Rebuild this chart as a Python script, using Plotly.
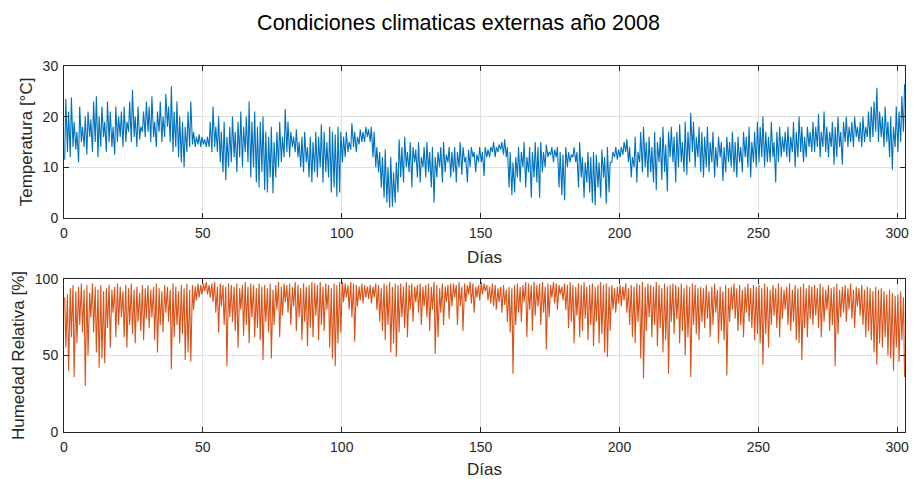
import plotly.graph_objects as go
from plotly.subplots import make_subplots

# Daily minimum / maximum outdoor temperature [°C], days 0..302
temp_min = [
    11.5, 13, 12, 14, 13.5, 11, 15, 14, 12.5, 16,
    13, 15, 12, 14, 16, 13, 15, 14, 12.5, 15,
    16, 14, 15, 17, 15, 16, 14, 15.5, 17, 16,
    17, 15, 16, 14, 17, 15, 16, 18, 15, 13,
    14, 12, 11, 10, 13, 14, 14.5, 14, 14.5, 14,
    14.5, 14, 14, 13, 14, 13, 11, 9, 7.5, 10,
    11, 12, 9, 12, 10, 13, 11, 8, 10, 7,
    6, 9, 5.5, 5, 8, 4.8, 8, 10, 11, 12,
    13, 12, 14, 13, 12, 10, 9, 11, 8, 7,
    9, 8, 10, 7, 9, 8, 5, 6, 4.2, 5,
    11, 12, 13, 13.5, 14, 13, 14.5, 15, 15, 16,
    15, 12, 10, 9, 6, 4, 3, 2, 2.2, 3,
    5, 8, 7, 10, 9, 6, 11, 8, 7, 10,
    8, 9, 6, 3, 8, 10, 7, 9, 11, 8,
    9, 7, 10, 8.5, 11, 7, 10, 12, 9, 11,
    11, 8.3, 12, 12, 13, 12, 13, 13.5, 12.5, 12,
    6, 4.5, 5, 8, 7, 10, 6, 9, 4, 8,
    7, 4, 9, 10, 12, 12.5, 11, 12, 6, 4.5,
    3.5, 10, 11, 12, 11, 6, 8, 4, 7, 5,
    3, 2.5, 6, 4, 8, 2.8, 5, 11, 12, 11.5,
    12, 12.5, 13, 11, 8, 10, 7, 11, 9, 10,
    8, 9, 7, 5.5, 11, 7.5, 9, 5.2, 12, 11,
    7, 10, 11, 9, 8.5, 11, 13, 10, 12, 9,
    8, 10, 9, 11, 8, 10, 12, 7.3, 9, 11,
    10, 9, 8, 11, 9, 12, 10, 8, 11, 10,
    11, 12, 10, 11, 11, 12, 7, 11, 12, 13,
    12, 11, 13, 10, 12, 13, 11, 12, 14, 13,
    13, 14, 12, 14, 13, 12, 14, 10.5, 12, 14,
    10.5, 15, 14, 15, 14, 16, 15, 14, 15, 16,
    15, 16, 17, 15, 16, 14, 15, 12, 9.5, 14,
    13, 15, 17,
]
temp_max = [
    23.5, 21, 23.8, 19, 17, 22, 18, 20, 21, 19.5,
    23, 24, 20, 22, 19, 23, 21, 18, 22, 20,
    21, 22, 19, 23, 25.3, 20, 22, 18, 21, 23,
    22, 24, 19, 21, 23, 20, 24.5, 22, 26, 21,
    23, 20, 19, 18, 21, 23, 17, 16, 16.5, 16,
    15.5, 16, 19, 22, 18, 20, 17, 19, 16, 18,
    20, 17, 19, 21, 18, 20, 23, 19, 21, 18,
    19, 20, 17, 16, 18, 15, 17, 19, 16, 21.5,
    19, 17, 16, 17.5, 15, 16, 17, 14, 16, 15,
    17, 16, 18.5, 17, 15, 18, 17, 16.5, 18, 17,
    16, 17, 15, 18.7, 17, 16, 17.5, 17, 18, 17.5,
    18, 17, 14, 13, 12, 13.5, 10, 12, 9, 11,
    15.5, 14, 16, 13, 15, 14, 13.5, 15, 12, 14,
    15, 13, 14, 12, 13, 14, 15, 12.5, 14, 13,
    14, 13, 15, 14, 12, 13.5, 14, 13, 12.5, 14,
    13, 14, 13.5, 14, 15, 14, 14.5, 15, 15.5, 14,
    13, 11, 12, 14, 13, 15, 12, 14, 13, 15,
    14, 15, 13, 14.5, 13, 14, 13.5, 14, 13, 12.5,
    14, 13, 12.5, 14, 13, 15, 12, 11, 13, 12,
    13, 12.5, 11, 13.5, 12, 14, 11, 13, 14, 13.5,
    14, 15, 15.5, 14, 12, 16, 13, 17, 18, 15,
    16, 14, 17, 15, 16, 18, 14.5, 17, 18, 16,
    17, 18.5, 15, 19, 17, 20.7, 19, 16, 18, 17,
    16, 18, 15, 17, 14, 16, 15, 14, 16, 15,
    17, 15, 16, 14, 17, 16, 18, 15, 17, 19,
    18, 20, 17, 16, 19, 15, 17, 18, 16, 17,
    18, 16, 19, 17, 20, 18, 16, 18, 17, 19,
    18, 20.5, 17, 21, 18, 17, 19, 18, 20, 17,
    19, 20, 18, 19, 20, 18, 19, 20, 18, 21,
    22, 23, 25.7, 21, 20, 22, 19, 20, 18, 22,
    21, 24, 26.4,
]

# Daily maximum / minimum relative humidity [%], days 0..302
hum_max = [
    88, 90, 94, 96, 92, 95, 97, 93, 96, 91,
    97, 95, 93, 96, 92, 94, 96, 93, 95, 97,
    95, 92, 96, 94, 97, 93, 95, 91, 96, 94,
    96, 93, 95, 97, 94, 92, 96, 95, 93, 97,
    95, 92, 96, 94, 97, 93, 96, 95, 97, 96,
    97, 98, 96, 97, 98, 95, 97, 96, 95, 97,
    96, 95, 97, 94, 96, 98, 95, 97, 96, 94,
    97, 95, 96, 94, 97, 93, 96, 98, 95, 97,
    96, 97, 95, 98, 96, 94, 97, 95, 96, 98,
    97, 96, 98, 95, 97, 96, 94, 97, 96, 98,
    98, 97, 96, 98, 97, 96, 95, 97, 96, 95,
    96, 95, 97, 96, 94, 97, 96, 98, 95, 97,
    96, 97, 95, 98, 96, 97, 95, 96, 97, 95,
    96, 97, 95, 98, 96, 94, 97, 95, 96, 97,
    97, 96, 98, 95, 97, 96, 98, 97, 95, 96,
    98, 97, 96, 95, 97, 96, 94, 95, 96, 93,
    95, 94, 96, 97, 95, 96, 98, 97, 96, 98,
    96, 97, 98, 95, 97, 96, 98, 97, 96, 95,
    97, 96, 98, 96, 95, 97, 96, 98, 95, 96,
    97, 95, 96, 98, 96, 97, 95, 96, 94, 95,
    96, 95, 97, 94, 96, 95, 97, 96, 98, 95,
    97, 96, 95, 98, 96, 94, 97, 95, 96, 97,
    96, 95, 97, 94, 96, 95, 97, 96, 94, 95,
    94, 96, 92, 95, 97, 93, 95, 92, 96, 94,
    95, 97, 94, 96, 93, 95, 97, 94, 96, 95,
    96, 94, 97, 95, 93, 96, 94, 97, 95, 93,
    95, 97, 93, 96, 94, 95, 97, 94, 96, 95,
    96, 94, 97, 95, 93, 96, 94, 95, 97, 93,
    95, 96, 94, 97, 93, 95, 94, 96, 93, 95,
    94, 92, 95, 93, 94, 92, 90, 93, 91, 89,
    90, 92, 88,
]
hum_min = [
    55, 40, 62, 36, 58, 70, 65, 30, 50, 75,
    65, 52, 42, 48, 45, 68, 55, 78, 62, 70,
    75, 62, 55, 70, 64, 58, 72, 66, 60, 74,
    68, 75, 60, 52, 70, 65, 78, 72, 41, 62,
    70, 58, 64, 47, 52, 46, 80, 86, 88, 90,
    92, 90, 88, 85, 78, 65, 82, 70, 43, 75,
    72, 66, 55, 80, 63, 70, 58, 75, 62, 68,
    60, 47, 72, 65, 48, 70, 80, 62, 76, 85,
    78, 70, 82, 66, 75, 60, 72, 56, 68, 62,
    76, 60, 70, 66, 80, 55, 48, 43, 58, 65,
    85, 88, 80, 75, 59, 82, 86, 84, 88, 87,
    84, 88, 80, 72, 66, 60, 70, 52, 58, 49,
    65, 75, 68, 62, 80, 72, 85, 78, 70, 82,
    75, 66, 80, 51, 62, 78, 70, 85, 74, 82,
    88, 70, 82, 66, 85, 90, 84, 78, 88, 86,
    90, 92, 86, 84, 82, 80, 85, 78, 83, 72,
    65, 38, 70, 78, 72, 85, 62, 80, 66, 76,
    82, 70, 78, 54, 75, 88, 84, 80, 90, 86,
    80, 68, 72, 58, 76, 62, 66, 74, 60, 70,
    56, 72, 58, 64, 52, 49, 66, 80, 78, 84,
    82, 86, 78, 70, 62, 58, 72, 48, 35, 66,
    75, 62, 70, 56, 68, 52, 60, 38, 72, 64,
    74, 58, 66, 50, 62, 36, 70, 64, 60, 72,
    68, 74, 62, 70, 78, 58, 66, 60, 37, 72,
    80, 74, 66, 70, 62, 78, 72, 68, 60, 64,
    58, 44, 64, 55, 70, 76, 68, 62, 74, 80,
    70, 66, 72, 60, 58, 47, 68, 62, 74, 70,
    76, 68, 62, 72, 80, 66, 70, 43, 64, 75,
    78, 72, 80, 74, 68, 82, 76, 70, 62, 66,
    60, 52, 44, 58, 55, 62, 50, 48, 40, 55,
    46, 60, 36,
]

x_ticks = [0, 50, 100, 150, 200, 250, 300]
t_ticks = [0, 10, 20, 30]
h_ticks = [0, 50, 100]

# Two readings per day: early morning and mid-afternoon
xs, temp, hum = [], [], []
for d in range(len(temp_min)):
    xs += [d + 0.25, d + 0.65]
    temp += [temp_min[d], temp_max[d]]
    hum += [hum_max[d], hum_min[d]]

FONT = "Liberation Sans, Arial"
TXT = "#262626"

fig = make_subplots(rows=2, cols=1, vertical_spacing=0.167)
fig.add_trace(go.Scatter(x=xs, y=temp, mode="lines",
                         line=dict(color="#0072BD", width=1.1), showlegend=False), row=1, col=1)
fig.add_trace(go.Scatter(x=xs, y=hum, mode="lines",
                         line=dict(color="#D95319", width=1.1), showlegend=False), row=2, col=1)

axis_common = dict(showline=True, linecolor=TXT, linewidth=1, mirror="ticks",
                   ticks="inside", ticklen=5, tickcolor=TXT, automargin=False,
                   showgrid=True, gridcolor="#dfdfdf", gridwidth=1, zeroline=False,
                   tickfont=dict(family=FONT, size=14, color=TXT))

fig.update_xaxes(range=[0, 302.8], tickvals=x_ticks, ticklabelstandoff=2, **axis_common)
for r in (1, 2):
    fig.update_xaxes(title=dict(text="Días", standoff=11,
                                font=dict(family=FONT, size=17, color=TXT)),
                     row=r, col=1)
fig.update_yaxes(range=[0, 30], tickvals=t_ticks, domain=[0.585, 1.0], ticklabelstandoff=2,
                 title=dict(text="Temperatura [°C]", standoff=5,
                            font=dict(family=FONT, size=17, color=TXT)),
                 row=1, col=1, **axis_common)
fig.update_yaxes(range=[0, 100], tickvals=h_ticks, domain=[0.0, 0.418], ticklabelstandoff=2,
                 title=dict(text="Humedad Relativa [%]", standoff=5,
                            font=dict(family=FONT, size=17, color=TXT)),
                 row=2, col=1, **axis_common)

fig.update_layout(
    width=917, height=479,
    margin=dict(l=64, r=12, t=66, b=47),
    paper_bgcolor="white", plot_bgcolor="white",
    title=dict(text="Condiciones climaticas externas año 2008", x=0.5, xanchor="center",
               y=0.953, yanchor="middle",
               font=dict(family=FONT, size=21.5, color="#000000")),
)

fig.write_html("out.html")
